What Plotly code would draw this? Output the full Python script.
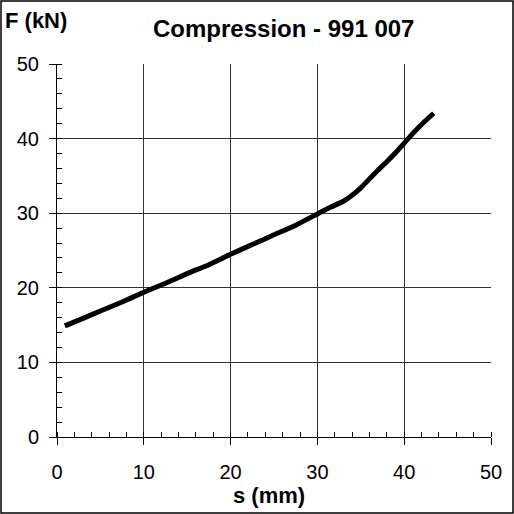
import plotly.graph_objects as go

# Compression test curve: displacement s (mm) vs force F (kN)
s_mm = [0.9, 3.0, 5.0, 7.5, 10.0, 12.5, 15.0, 17.5, 20.0, 22.5, 25.0, 27.5, 30.0,
        31.5, 33.0, 34.0, 35.0, 36.0, 37.0, 38.0, 39.0, 40.0, 41.0, 42.0, 43.4]
f_kn = [14.9, 15.9, 16.9, 18.1, 19.4, 20.6, 21.9, 23.1, 24.5, 25.8, 27.1, 28.4, 29.9,
        30.8, 31.6, 32.4, 33.4, 34.6, 35.8, 36.9, 38.1, 39.4, 40.7, 41.9, 43.4]

x_ticks = [0, 10, 20, 30, 40, 50]
y_ticks = [0, 10, 20, 30, 40, 50]

W = H = 514
ML, MR, MT, MB = 57, 23, 64, 77

fig = go.Figure()
fig.add_trace(go.Scatter(x=s_mm, y=f_kn, mode="lines",
                         line=dict(color="black", width=5, shape="spline", smoothing=0.5),
                         hoverinfo="skip", showlegend=False))

font = "Liberation Sans, Arial, sans-serif"
axis_common = dict(
    range=[0, 50], showgrid=True, gridcolor="#333333", gridwidth=1,
    zeroline=False, showline=True, linecolor="black", linewidth=1,
    ticks="outside", ticklen=7, tickcolor="black", tickwidth=1,
    tickfont=dict(family=font, size=20, color="black"),
    minor=dict(ticks="inside", ticklen=5, tickcolor="black", dtick=2, showgrid=False),
    fixedrange=True,
)
fig.update_xaxes(**axis_common, tickvals=x_ticks, ticklabelstandoff=10)
fig.update_yaxes(**axis_common, tickvals=y_ticks, ticklabelstandoff=6)

pw = (W - ML - MR)
ph = (H - MT - MB)
def px(xp):
    return (xp - ML) / pw
def py(yp):
    return (H - MB - yp) / ph

fig.update_layout(
    width=W, height=H,
    margin=dict(l=ML, r=MR, t=MT, b=MB, autoexpand=False),
    paper_bgcolor="white", plot_bgcolor="white",
    font=dict(family=font, color="black"),
    annotations=[
        dict(text="<b>Compression - 991 007</b>", xref="paper", yref="paper",
             x=px(283), y=py(29), xanchor="center", yanchor="middle",
             showarrow=False, font=dict(size=24, family=font)),
        dict(text="<b>F (kN)</b>", xref="paper", yref="paper",
             x=px(3), y=py(21), xanchor="left", yanchor="middle",
             showarrow=False, font=dict(size=22, family=font)),
        dict(text="<b>s (mm)</b>", xref="paper", yref="paper",
             x=px(269), y=py(496), xanchor="center", yanchor="middle",
             showarrow=False, font=dict(size=22, family=font)),
    ],
    shapes=[
        dict(type="rect", xref="paper", yref="paper",
             x0=px(1), x1=px(513), y0=py(513), y1=py(1),
             line=dict(color="black", width=1.5), layer="below"),
    ],
)

fig.write_html("out.html")
